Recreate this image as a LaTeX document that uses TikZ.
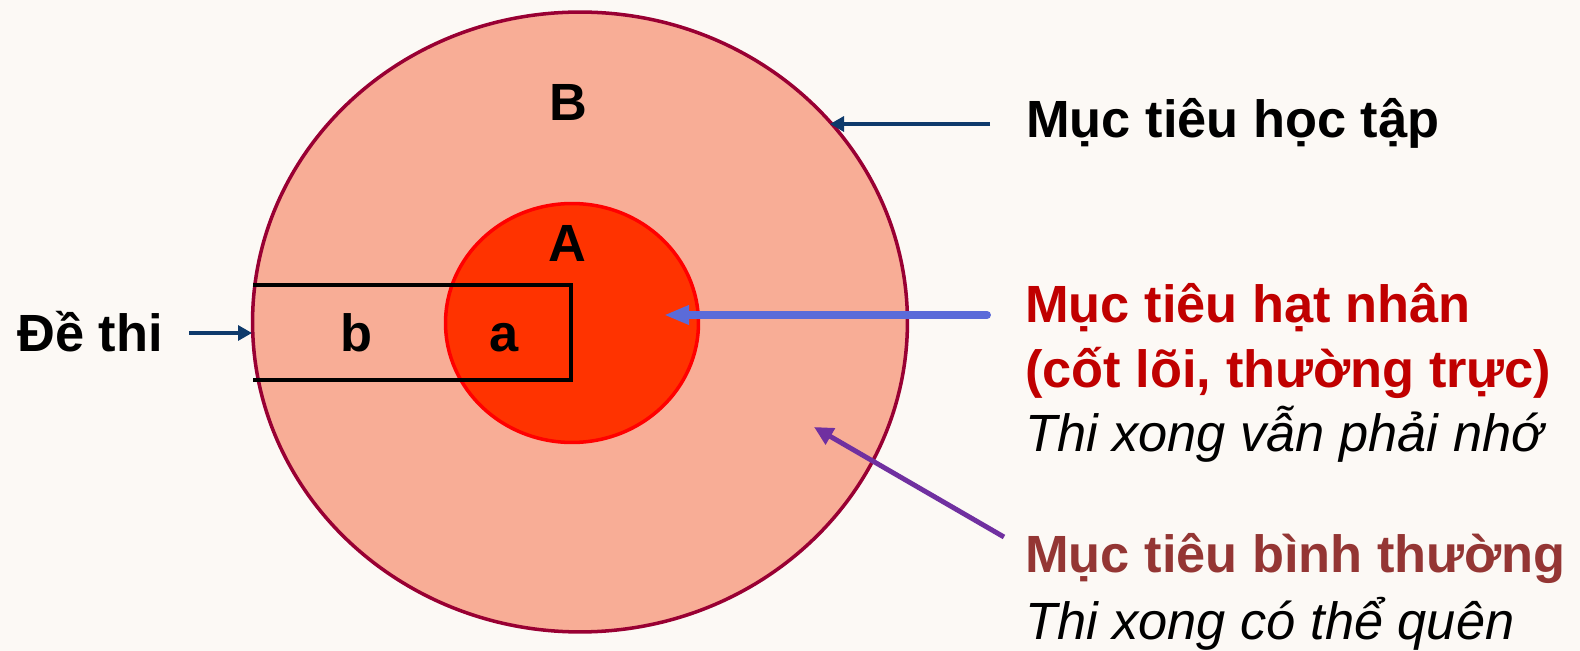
\documentclass[tikz,border=0pt]{standalone}
\usepackage{fontspec}
\setmainfont{Liberation Sans}
\usetikzlibrary{arrows.meta,shapes.geometric}

\definecolor{bgcream}{HTML}{FCF9F5}
\definecolor{outerfill}{HTML}{F8AD96}
\definecolor{outerline}{HTML}{990033}
\definecolor{innerfill}{HTML}{FF3300}
\definecolor{innerline}{HTML}{FF0000}
\definecolor{navyarr}{HTML}{0E3A6B}
\definecolor{bluearr}{HTML}{5B6BD9}
\definecolor{purplearr}{HTML}{7030A0}
\definecolor{coretxt}{HTML}{C00000}
\definecolor{normtxt}{HTML}{943634}

\tikzset{
  bigtxt/.style={inner sep=0pt, font=\fontsize{29.8}{36}\selectfont\bfseries},
  slanttxt/.style={inner sep=0pt, font=\fontsize{29.8}{36}\selectfont\itshape},
  navyarrow/.style={draw=navyarr, line width=1.8pt, -{Triangle[length=0.28cm,width=0.3cm]}},
}

\begin{document}
\begin{tikzpicture}[x=0.02cm,y=-0.02cm]

\fill[bgcream] (0,0) rectangle (1580,651);
\useasboundingbox (0,0) rectangle (1580,651);

% the two goal circles
\node[ellipse, draw=outerline, fill=outerfill, line width=2pt, inner sep=0pt,
      minimum width=13.1cm, minimum height=12.4cm] (outer) at (580,322) {};
\node[ellipse, draw=innerline, fill=innerfill, line width=2pt, inner sep=0pt,
      minimum width=5.06cm, minimum height=4.78cm] (inner) at (572,323) {};

% exam box
\draw[line width=2pt] (253,285) -- (571,285) -- (571,380) -- (253,380);

\node[bigtxt, anchor=base] (B) at (568,121) {B};
\node[bigtxt, anchor=base] (A) at (567,262) {A};
\node[bigtxt, anchor=base] (b) at (356,352) {b};
\node[bigtxt, anchor=base] (a) at (504,352) {a};

% labels
\node[bigtxt, anchor=base west] (exam) at (17,352) {Đề thi};
\node[bigtxt, anchor=base west] (goal) at (1026,138) {Mục tiêu học tập};

\node[bigtxt, text=coretxt, anchor=base west] (core1) at (1025,323) {Mục tiêu hạt nhân};
\node[bigtxt, text=coretxt, anchor=base west] (core2) at (1025,388) {(cốt lõi, thường trực)};
\node[slanttxt, anchor=base west] (core3) at (1025,452) {Thi xong vẫn phải nhớ};

\node[bigtxt, text=normtxt, anchor=base west] (norm1) at (1025,573) {Mục tiêu bình thường};
\node[slanttxt, anchor=base west] (norm2) at (1025,640) {Thi xong có thể quên};

% arrows
\coordinate (examstart) at (189,333);
\coordinate (examend) at (252,333);
\coordinate (goalstart) at (990,124);
\coordinate (goalend) at (830,124);
\coordinate (corestart) at (987,315);
\coordinate (coreend) at (664,315);
\coordinate (normstart) at (1004,537);
\coordinate (normend) at (814,427);

\draw[navyarrow] (examstart) -- (examend);
\draw[navyarrow] (goalstart) -- (goalend);
\draw[bluearr, line width=4.5pt, line cap=round, -{Triangle[length=0.5cm,width=0.36cm]}] (corestart) -- (coreend);
\draw[purplearr, line width=2.8pt, -{Triangle[length=0.38cm,width=0.36cm]}] (normstart) -- (normend);

\end{tikzpicture}
\end{document}
